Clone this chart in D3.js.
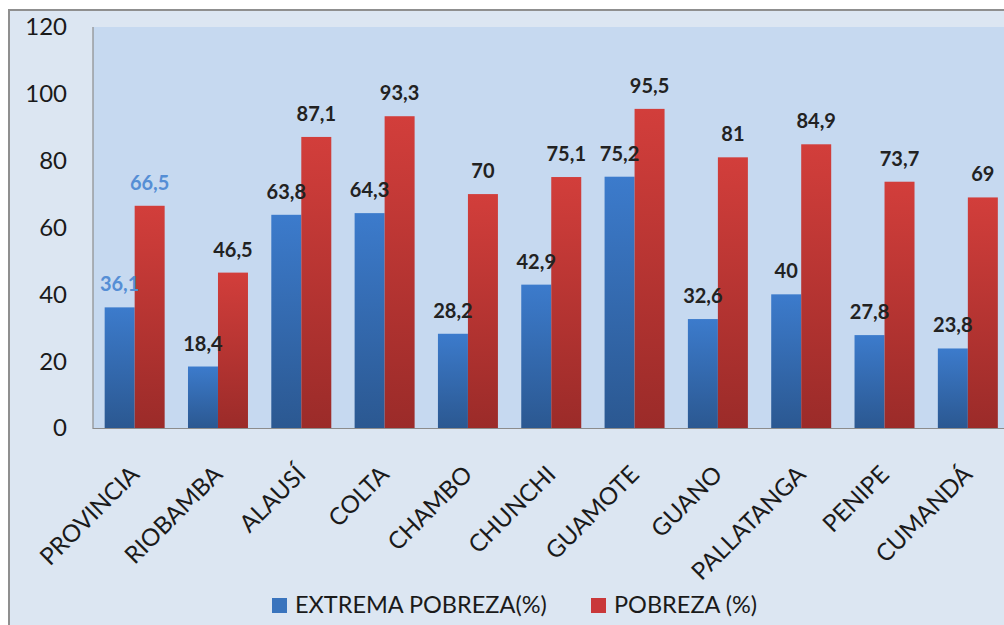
<!DOCTYPE html>
<html>
<head>
<meta charset="utf-8">
<script src="https://cdn.jsdelivr.net/npm/d3@7"></script>
<style>
  body { margin: 0; background: #fff; }
  svg { display: block; font-family: Lato, "Open Sans", sans-serif; }
  .tick-label { font-size: 24px; fill: #1a1a1a; }
  .cat-label { font-size: 24px; fill: #1a1a1a; }
  .value-label { font-size: 20px; font-weight: bold; fill: #222; }
  .legend-label { font-size: 23.5px; fill: #1a1a1a; }
</style>
</head>
<body>
<svg id="chart"></svg>
<script>
// Data
const categories = ['PROVINCIA', 'RIOBAMBA', 'ALAUSÍ', 'COLTA', 'CHAMBO', 'CHUNCHI',
  'GUAMOTE', 'GUANO', 'PALLATANGA', 'PENIPE', 'CUMANDÁ'];
const extremaPobreza = [36.1, 18.4, 63.8, 64.3, 28.2, 42.9, 75.2, 32.6, 40, 27.8, 23.8];
const pobreza = [66.5, 46.5, 87.1, 93.3, 70, 75.1, 95.5, 81, 84.9, 73.7, 69];
const seriesNames = ['EXTREMA POBREZA(%)', 'POBREZA (%)'];
const yTicks = [0, 20, 40, 60, 80, 100, 120];

class GroupedBars {

  constructor(_config) {
    this.config = {
      parentElement: _config.parentElement,
      containerWidth: _config.containerWidth || 1004,
      containerHeight: _config.containerHeight || 625,
      plot: _config.plot || { left: 93, top: 27, right: 1009.5, bottom: 428 }
    };
    this.initVis();
  }

  initVis() {
    let vis = this;
    const p = vis.config.plot;

    vis.svg = d3.select(vis.config.parentElement)
      .attr('width', vis.config.containerWidth)
      .attr('height', vis.config.containerHeight);

    // gradients like the office chart fill
    const defs = vis.svg.append('defs');
    const grads = [
      { id: 'gBlue', top: '#3c7bcc', bottom: '#2b5891' },
      { id: 'gRed', top: '#d23e3b', bottom: '#9b2b29' }
    ];
    grads.forEach(g => {
      const lg = defs.append('linearGradient')
        .attr('id', g.id).attr('x1', 0).attr('y1', 0).attr('x2', 0).attr('y2', 1);
      lg.append('stop').attr('offset', '0%').attr('stop-color', g.top);
      lg.append('stop').attr('offset', '100%').attr('stop-color', g.bottom);
    });
    vis.fills = ['url(#gBlue)', 'url(#gRed)'];
    vis.legendFills = ['#3a74bd', '#c9383a'];

    // outer chart frame
    vis.svg.append('rect')
      .attr('x', 9).attr('y', 10)
      .attr('width', vis.config.containerWidth).attr('height', vis.config.containerHeight)
      .attr('fill', '#dce6f2')
      .attr('stroke', '#8f8f8f').attr('stroke-width', 2);

    // plot area
    vis.svg.append('rect')
      .attr('x', p.left).attr('y', p.top)
      .attr('width', p.right - p.left).attr('height', p.bottom - p.top)
      .attr('fill', '#c6d9f0');

    vis.xScale = d3.scaleBand()
      .domain(categories)
      .range([p.left, p.right])
      .paddingInner(0.28)
      .paddingOuter(0.14);

    vis.xSub = d3.scaleBand()
      .domain([0, 1])
      .range([0, vis.xScale.bandwidth()]);

    vis.yScale = d3.scaleLinear()
      .domain([0, 120])
      .range([p.bottom, p.top]);
  }

  renderVis() {
    let vis = this;
    const p = vis.config.plot;
    const data = categories.map((c, i) => ({ cat: c, values: [extremaPobreza[i], pobreza[i]] }));
    const fmt = v => String(v).replace('.', ',');

    // axis lines
    vis.svg.append('line')
      .attr('x1', p.left).attr('x2', p.left)
      .attr('y1', p.top).attr('y2', p.bottom + 1)
      .attr('stroke', '#8c8c8c').attr('stroke-width', 1.2);

    // y tick labels
    vis.svg.append('g').selectAll('text')
      .data(yTicks)
      .join('text')
      .attr('class', 'tick-label')
      .attr('x', 67)
      .attr('y', d => vis.yScale(d))
      .attr('dy', '0.35em')
      .attr('text-anchor', 'end')
      .text(d => d);

    const groups = vis.svg.append('g').selectAll('g')
      .data(data)
      .join('g')
      .attr('transform', d => `translate(${vis.xScale(d.cat)},0)`);

    groups.selectAll('rect')
      .data(d => d.values)
      .join('rect')
      .attr('x', (d, i) => vis.xSub(i))
      .attr('y', d => vis.yScale(d))
      .attr('width', vis.xSub.bandwidth())
      .attr('height', d => vis.yScale(0) - vis.yScale(d))
      .attr('fill', (d, i) => vis.fills[i]);

    vis.svg.append('line')
      .attr('x1', p.left).attr('x2', p.right)
      .attr('y1', p.bottom + 0.5).attr('y2', p.bottom + 0.5)
      .attr('stroke', '#8c8c8c').attr('stroke-width', 1.2);

    // value labels, drawn on top of every bar
    const labelG = vis.svg.append('g');
    data.forEach((d, gi) => {
      d.values.forEach((v, i) => {
        labelG.append('text')
          .attr('class', 'value-label')
          .attr('x', vis.xScale(d.cat) + vis.xSub(i) + vis.xSub.bandwidth() / 2)
          .attr('y', vis.yScale(v) - 16)
          .attr('text-anchor', 'middle')
          .style('fill', gi === 0 ? '#558ed5' : '#222')
          .text(fmt(v));
      });
    });

    // rotated category labels
    vis.svg.append('g').selectAll('text')
      .data(categories)
      .join('text')
      .attr('class', 'cat-label')
      .attr('text-anchor', 'end')
      .attr('transform', d => `translate(${vis.xScale(d) + vis.xScale.bandwidth() / 2 + 6},476) rotate(-45)`)
      .text(d => d);

    // legend
    const legendX = [272, 591];
    const legend = vis.svg.append('g').selectAll('g')
      .data(seriesNames)
      .join('g')
      .attr('transform', (d, i) => `translate(${legendX[i]},598)`);

    legend.append('rect')
      .attr('width', 15).attr('height', 15)
      .attr('fill', (d, i) => vis.legendFills[i]);

    legend.append('text')
      .attr('class', 'legend-label')
      .attr('x', 23)
      .attr('y', 15)
      .text(d => d);
  }
}

const chart = new GroupedBars({ parentElement: '#chart' });
chart.renderVis();
</script>
</body>
</html>
